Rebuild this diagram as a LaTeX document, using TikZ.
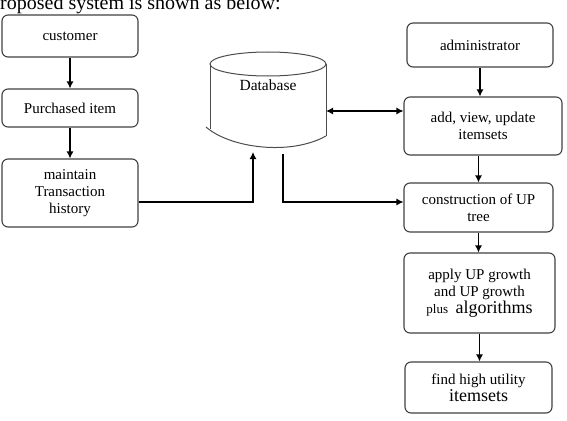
\documentclass[tikz,border=0pt]{standalone}
\usepackage{fontspec}
\setmainfont{Liberation Serif}
\usetikzlibrary{calc, arrows.meta}

\tikzset{
  procbox/.style={draw=black!75, line width=1.1pt, rounded corners=6pt, align=center,
    inner sep=2pt, font=\fontsize{15}{17}\selectfont},
  dbline/.style={draw=black!70, line width=1pt},
  flow/.style={->, line width=1.2pt},
}

\begin{document}
\begin{tikzpicture}[x=1pt, y=-1pt, >={Latex[length=7pt, width=7pt]}]
  \clip (0,0) rectangle (567,420);
  \node[anchor=base west, inner sep=0pt, font=\fontsize{20}{22}\selectfont] (intro) at (-10,9.5) {proposed system is shown as below:};
  % left column
  \node[procbox, minimum width=136pt, minimum height=42pt] (cust) at (70,36) {customer};
  \node[procbox, minimum width=136pt, minimum height=38pt] (purch) at (70,108) {Purchased item};
  \node[procbox, minimum width=136pt, minimum height=68pt] (maint) at (70,193) {maintain\\Transaction\\history};
  % database
  \draw[dbline] (268,64) ellipse [x radius=58, y radius=12];
  \draw[dbline] (210,64) -- (210,129);
  \draw[dbline] (326,64) -- (326,136);
  \draw[dbline] (206,127) .. controls (230,148) and (290,156) .. (326,136);
  \node[font=\fontsize{15.5}{17}\selectfont] (db) at (268,85) {Database};
  \coordinate (dbin) at (253,152);
  \coordinate (dbout) at (283,154);
  \coordinate (dbside) at (326,111);
  \coordinate (mbend) at (253,202);
  \coordinate (cbend) at (283,202);
  % right column
  \node[procbox, minimum width=146pt, minimum height=44pt] (admin) at (480,45) {administrator};
  \node[procbox, minimum width=158pt, minimum height=58pt] (addv) at (483,126) {add, view, update\\itemsets};
  \node[procbox, minimum width=149pt, minimum height=49pt] (cons) at (478.5,207.5) {construction of UP\\tree};
  \node[procbox, minimum width=151pt, minimum height=80pt] (apply) at (479.5,293) {apply UP growth\\and UP growth\\{\fontsize{13}{13}\selectfont plus}~ {\fontsize{18}{20}\selectfont algorithms}};
  \node[procbox, minimum width=147pt, minimum height=51pt] (find) at (478.5,387.5) {find high utility\\{\fontsize{18}{18}\selectfont itemsets}};
  % connectors
  \draw[flow] (cust.south) -- (purch.north);
  \draw[flow] (purch.south) -- (maint.north);
  \draw[flow] (maint.east |- mbend) -- (mbend) -- (dbin);
  \draw[flow] (dbout) -- (cbend) -- (cbend -| cons.west);
  \draw[<->, line width=1.2pt] (dbside) -- (dbside -| addv.west);
  \draw[flow] (admin.south) -- (admin.south |- addv.north);
  \draw[flow] (cons.north |- addv.south) -- (cons.north);
  \draw[flow] (cons.south) -- (cons.south |- apply.north);
  \draw[flow] (apply.south) -- (apply.south |- find.north);
\end{tikzpicture}
\end{document}
